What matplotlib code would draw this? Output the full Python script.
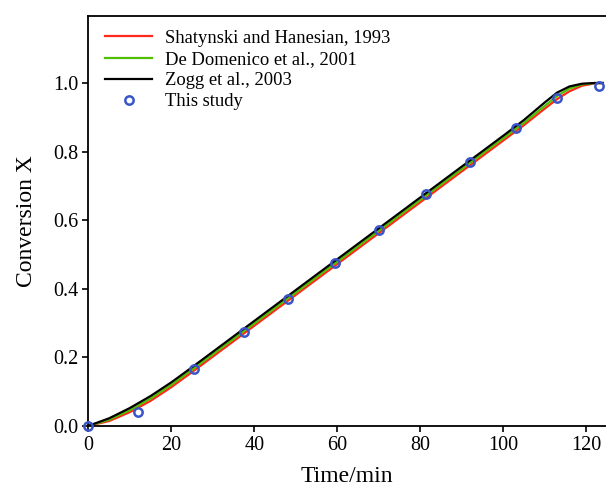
import matplotlib
matplotlib.use("Agg")
import matplotlib.pyplot as plt

plt.rcParams['font.family'] = ['Liberation Serif', 'DejaVu Serif']

# Model curves (time in min)
t_model = [0, 5, 10, 15, 20, 25, 30, 35, 40, 45, 50, 55, 60, 65, 70, 75, 80,
           85, 90, 95, 100, 105, 110, 113, 116, 119, 122, 124]
x_zogg = [0.0, 0.022, 0.052, 0.087, 0.127, 0.171, 0.216, 0.261, 0.306, 0.351,
          0.396, 0.441, 0.486, 0.531, 0.576, 0.621, 0.666, 0.711, 0.756, 0.801,
          0.846, 0.892, 0.943, 0.972, 0.990, 0.998, 1.0, 1.0]
x_dedom = [0.0, 0.018, 0.046, 0.080, 0.120, 0.164, 0.209, 0.254, 0.299, 0.344,
           0.389, 0.434, 0.479, 0.524, 0.569, 0.614, 0.659, 0.704, 0.749, 0.794,
           0.839, 0.884, 0.933, 0.962, 0.984, 0.996, 1.0, 1.0]
x_shat = [0.0, 0.014, 0.040, 0.073, 0.113, 0.157, 0.202, 0.247, 0.292, 0.337,
          0.382, 0.427, 0.472, 0.517, 0.562, 0.607, 0.652, 0.697, 0.742, 0.787,
          0.832, 0.877, 0.925, 0.953, 0.976, 0.992, 0.999, 1.0]

# Experimental data
t_exp = [0, 12, 25.5, 37.5, 48, 59.5, 70, 81.5, 92, 103, 113, 123]
x_exp = [0.0, 0.04, 0.165, 0.275, 0.37, 0.475, 0.57, 0.675, 0.77, 0.87, 0.955, 0.99]

fig = plt.figure(figsize=(6.06, 4.90), dpi=100)
ax = fig.add_axes([0.146, 0.131, 0.854, 0.836])

ax.plot(t_model, x_shat, color='#ff2a1a', lw=1.6, label='Shatynski and Hanesian, 1993')
ax.plot(t_model, x_dedom, color='#4fbf00', lw=1.6, label='De Domenico et al., 2001')
ax.plot(t_model, x_zogg, color='black', lw=1.6, label='Zogg et al., 2003')
ax.plot(t_exp, x_exp, 'o', ms=6.0, mfc='none', mec='#3a55c8', mew=1.8,
        label='This study', clip_on=False, zorder=5)

ax.set_xlim(0, 124.8)
ax.set_ylim(0, 1.195)
ax.set_xticks([0, 20, 40, 60, 80, 100, 120])
ax.set_yticks([0.0, 0.2, 0.4, 0.6, 0.8, 1.0])
ax.set_yticklabels(['0.0', '0.2', '0.4', '0.6', '0.8', '1.0'])
ax.spines['right'].set_visible(False)
for s in ['left', 'bottom', 'top']:
    ax.spines[s].set_linewidth(1.3)
ax.tick_params(direction='out', length=4, width=1.2, labelsize=14.5, pad=3)

ax.set_xlabel('Time/min', fontsize=17, labelpad=8)
ax.set_ylabel('Conversion X', fontsize=17, labelpad=12)

ax.legend(loc='upper left', frameon=False, fontsize=13.4, handlelength=2.5,
          handletextpad=0.7, labelspacing=0.22, borderaxespad=0.0,
          borderpad=0.3, bbox_to_anchor=(0.022, 0.980))

fig.savefig('out.png', dpi=100)
